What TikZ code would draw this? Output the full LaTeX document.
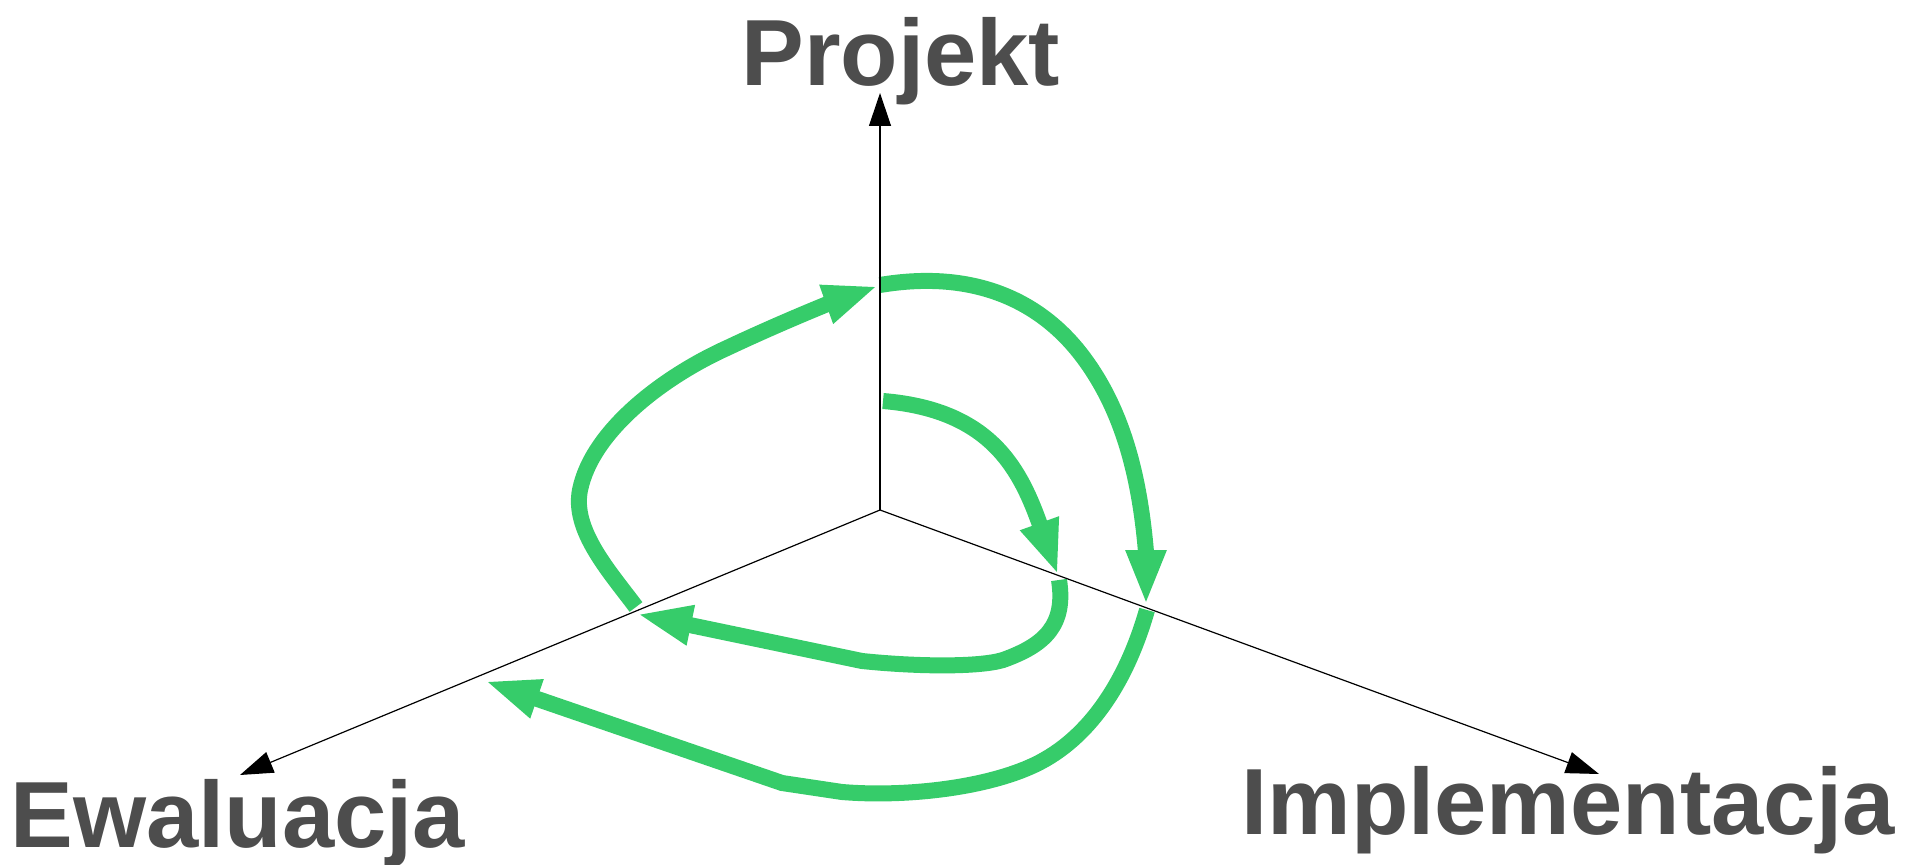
\documentclass[tikz,border=0pt]{standalone}
\usepackage{fontspec}
\setmainfont{Liberation Sans}
\usetikzlibrary{arrows.meta}
\definecolor{spiralgreen}{HTML}{36CC6A}
\definecolor{labelgray}{HTML}{4D4D4D}

\begin{document}
\begin{tikzpicture}[x=.5pt, y=-.5pt,
  axis/.style={line width=.6pt, -{Triangle[length=16.5pt, width=11pt]}},
  spiral/.style={line width=8pt, spiralgreen, -{Triangle[length=27.5pt, width=18.5pt]}},
  phase/.style={inner sep=0pt, anchor=base west, text=labelgray,
    font=\fontsize{47}{50}\selectfont\bfseries}]
\useasboundingbox (0,0) rectangle (1910,865);
\coordinate (origin) at (880,510);
\coordinate (proj tip) at (880,93);
\coordinate (eval tip) at (240,775);
\coordinate (impl tip) at (1599,774);
%
\draw[spiral] (883,401) .. controls (993,410) and (1021,472) .. (1058,575);
\draw[spiral] (1059,580) .. controls (1066,625) and (1045,645) .. (1003,660)
  .. controls (980,667) and (920,667) .. (862,661) -- (637,614);
\draw[spiral] (636,607) .. controls (609,571) and (572,530) .. (580,490)
  .. controls (592,431) and (663,377) .. (727,348)
  .. controls (780,323) and (830,303) .. (878,286);
\draw[spiral] (880,285) .. controls (969,270) and (1038,297) .. (1083,357)
  .. controls (1125,413) and (1140,482) .. (1146,552) -- (1146,605);
\draw[spiral] (1147,610) .. controls (1125,687) and (1085,743) .. (1030,767)
  .. controls (980,789) and (902,797) .. (842,792) -- (782,783) -- (485,681);
%
\draw[axis] (origin) -- (proj tip);
\draw[axis] (origin) -- (eval tip);
\draw[axis] (origin) -- (impl tip);
\node[phase] (proj) at (741,86) {Projekt};
\node[phase] (eval) at (10,847) {Ewaluacja};
\node[phase] (impl) at (1241,834) {Implementacja};
\end{tikzpicture}
\end{document}
